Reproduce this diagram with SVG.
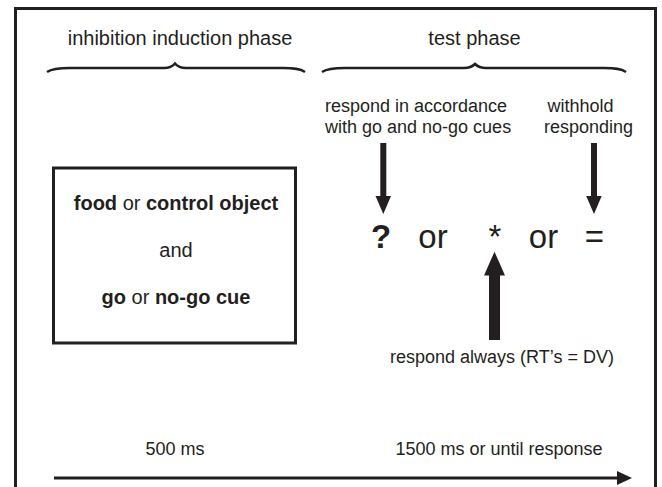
<svg xmlns="http://www.w3.org/2000/svg" width="662" height="487" viewBox="0 0 662 487">
<style>
text{font-family:"Liberation Sans",Arial,sans-serif;fill:#231f20}
.t20{font-size:20px}
.t18{font-size:18px}
.sym{font-size:33px}
.b{font-weight:bold}
.line{stroke:#231f20;fill:none}
.solid{fill:#231f20;stroke:none}
</style>
<rect width="662" height="487" fill="#fff"/>
<g id="frame">
<path class="line" stroke-width="3" d="M15.5,487 V8.5 H655.5 V487"/>
</g>
<g id="phase-labels">
<text class="t20" x="180" y="45" text-anchor="middle">inhibition induction phase</text>
<text class="t20" x="474.5" y="45" text-anchor="middle">test phase</text>
<path class="line" stroke-width="2.5" d="M47,72 C52,68.5 60,68 70,68 L164,68 C170,68 173,66 175,63.5 C177,66 180,68 186,68 L283,68 C294,68 300,68.5 305,72"/>
<path class="line" stroke-width="2.5" d="M322,72 C327,68.5 335,68 345,68 L464,68 C470,68 473,66 475,64 C477,66 480,68 486,68 L604,68 C615,68 621,68.5 626,72"/>
</g>
<g id="stimulus-box">
<rect x="53.5" y="168" width="242" height="175" class="line" stroke-width="3"/>
<text class="t20" x="176" y="210" text-anchor="middle"><tspan class="b">food</tspan> or <tspan class="b">control object</tspan></text>
<text class="t20" x="176" y="257" text-anchor="middle">and</text>
<text class="t20" x="176" y="304" text-anchor="middle"><tspan class="b">go</tspan> or <tspan class="b">no-go cue</tspan></text>
</g>
<g id="instructions">
<text class="t18" x="325" y="112">respond in accordance</text>
<text class="t18" x="325" y="133">with go and no-go cues</text>
<text class="t18" x="547.5" y="112">withhold</text>
<text class="t18" x="544" y="133">responding</text>
<text class="t18" x="390" y="363">respond always (RT’s = DV)</text>
</g>
<g id="targets">
<text class="sym b" x="381" y="248" text-anchor="middle">?</text>
<text class="sym" x="433" y="248" text-anchor="middle">or</text>
<text class="sym" x="495" y="248" text-anchor="middle">*</text>
<text class="sym" x="543.5" y="248" text-anchor="middle">or</text>
<text class="sym" x="594.5" y="248" text-anchor="middle">=</text>
</g>
<g id="connectors">
<rect class="solid" x="380.3" y="143" width="6" height="54"/>
<polygon class="solid" points="375.5,196 391,196 383.3,214"/>
<rect class="solid" x="591" y="143" width="6" height="54"/>
<polygon class="solid" points="586.2,196 601.7,196 594,214"/>
<rect class="solid" x="489" y="274" width="11" height="66"/>
<polygon class="solid" points="484,275.5 505,275.5 494.5,251.7"/>
</g>
<g id="timeline">
<line class="line" stroke-width="3" x1="54" y1="478" x2="618" y2="478"/>
<polygon class="solid" points="617,471 632,478 617,485"/>
<text class="t18" x="175" y="455" text-anchor="middle">500 ms</text>
<text class="t18" x="499" y="455" text-anchor="middle">1500 ms or until response</text>
</g>
</svg>
